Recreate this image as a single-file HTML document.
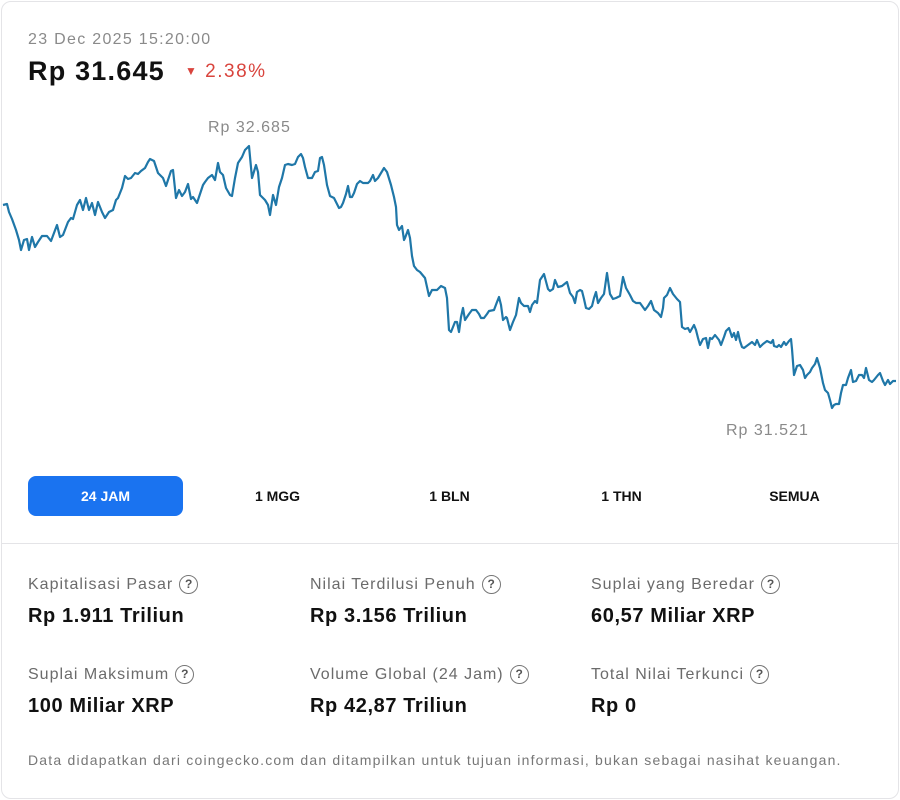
<!DOCTYPE html>
<html><head><meta charset="utf-8"><style>
*{box-sizing:border-box;margin:0;padding:0}
body{width:900px;height:800px;background:#fff;font-family:"Liberation Sans",sans-serif;color:#111;position:relative;overflow:hidden}
.card{position:absolute;left:1px;top:1px;width:898px;height:798px;border:1px solid #e4e4e7;border-radius:10px}
.abs{position:absolute;white-space:nowrap}
.btn{position:absolute;top:476px;height:40px;width:155px;font-size:14px;font-weight:bold;display:flex;align-items:center;justify-content:center}
.lab{font-size:16px;color:#6b6b6b;letter-spacing:1px}
.val{font-size:20px;font-weight:bold;color:#111;letter-spacing:0.6px}
.q{display:inline-block;width:19px;height:19px;border:1.5px solid #777;border-radius:50%;font-size:12px;text-align:center;line-height:16px;color:#555;margin-left:6px;vertical-align:1px;font-weight:bold;letter-spacing:0}
</style></head><body>
<div class="card"></div>
<div class="abs" style="left:28px;top:31px;font-size:16px;color:#8a8a8a;letter-spacing:1.3px">23 Dec 2025 15:20:00</div>
<div class="abs" style="left:28px;top:56px;font-size:27px;font-weight:bold;letter-spacing:1.2px">Rp 31.645</div>
<div class="abs" style="left:185px;top:61px;font-size:19px;color:#d9443d;letter-spacing:1.5px"><span style="font-size:12px;vertical-align:2px">▼</span> 2.38%</div>
<div class="abs" style="left:208px;top:119px;font-size:16px;color:#8a8a8a;letter-spacing:1px">Rp 32.685</div>
<div class="abs" style="left:726px;top:422px;font-size:16px;color:#8a8a8a;letter-spacing:1px">Rp 31.521</div>
<svg class="abs" style="left:0;top:0" width="900" height="470"><polyline fill="none" stroke="#1f77a8" stroke-width="2.2" stroke-linejoin="round" points="3,205 7,204 9,212 12,219 16,230 19,240 21,250 24,240 27,239 29,250 32,237 35,247 38,242 42,236 47,236 51,241 54,233 57,225 60,237 63,235 68,222 71,218 73,219 77,205 80,200 83,210 86,198 89,210 92,203 95,215 98,202 102,212 105,218 109,212 113,210 116,200 118,198 122,188 125,176 128,179 131,178 135,173 138,174 141,171 145,168 148,162 150,159 154,161 158,173 161,176 163,178 166,186 171,171 173,170 176,198 179,190 182,196 185,192 188,184 191,199 193,197 197,203 200,194 203,185 205,182 208,178 212,175 215,180 218,163 220,172 223,175 226,188 230,195 232,196 235,178 238,163 242,157 245,150 249,146 252,178 256,165 258,172 260,195 265,200 268,205 270,215 273,195 276,205 279,187 282,178 285,165 288,164 292,165 295,164 298,157 301,154 303,158 305,167 308,178 312,178 315,172 318,171 320,158 322,157 324,165 327,185 330,196 334,198 336,202 339,208 341,207 343,203 346,194 348,186 350,197 352,197 354,193 357,184 360,181 363,183 368,183 370,181 373,175 375,181 378,178 381,173 384,168 387,172 391,185 394,197 396,207 397,225 399,230 402,226 404,240 405,238 408,230 410,238 412,256 414,266 417,270 420,272 425,278 429,296 432,290 437,290 441,286 445,288 447,298 449,330 451,332 455,322 457,322 459,332 461,317 463,308 465,320 469,314 472,310 476,310 479,314 481,318 484,318 487,314 489,311 494,310 497,302 499,297 501,305 503,320 506,317 507,318 510,330 513,322 516,315 519,298 521,303 524,306 528,306 530,312 532,305 535,301 537,303 540,280 544,274 548,289 550,291 553,289 555,280 558,287 562,286 567,282 570,293 573,297 575,303 577,292 580,290 582,291 584,299 586,308 589,309 592,306 594,298 596,292 598,303 601,298 604,294 607,273 610,294 613,299 616,298 620,296 623,277 626,288 630,295 633,301 636,303 640,303 645,310 648,306 651,301 654,310 658,313 661,317 663,308 664,298 667,295 670,288 673,294 677,299 680,302 682,327 685,329 688,328 690,332 694,325 696,330 698,338 700,345 703,339 706,338 708,348 710,338 712,339 715,335 719,340 721,345 724,337 726,331 729,328 732,337 734,333 736,340 738,332 740,341 742,347 744,348 748,345 752,342 755,345 757,340 760,347 763,344 767,341 771,343 773,340 774,346 777,347 779,345 781,347 784,342 786,345 789,341 791,339 792,349 794,375 797,366 800,365 803,370 805,378 807,375 810,372 812,368 815,364 817,358 820,368 823,383 825,390 828,393 830,400 832,408 834,405 836,404 839,404 841,393 843,385 846,385 848,378 851,370 853,382 856,381 859,375 862,375 864,378 866,368 869,380 872,382 874,380 878,375 880,373 883,381 885,385 888,380 890,384 893,381 896,381"/></svg>
<div class="btn" style="left:28px;background:#1a73f0;color:#fff;border-radius:8px">24 JAM</div>
<div class="btn" style="left:200px">1 MGG</div>
<div class="btn" style="left:372px">1 BLN</div>
<div class="btn" style="left:544px">1 THN</div>
<div class="btn" style="left:717px">SEMUA</div>
<div class="abs" style="left:1px;top:543px;width:898px;height:1px;background:#e4e4e7"></div>
<div class="abs lab" style="left:28px;top:575px">Kapitalisasi Pasar<span class="q">?</span></div>
<div class="abs val" style="left:28px;top:605px">Rp 1.911 Triliun</div>
<div class="abs lab" style="left:310px;top:575px">Nilai Terdilusi Penuh<span class="q">?</span></div>
<div class="abs val" style="left:310px;top:605px">Rp 3.156 Triliun</div>
<div class="abs lab" style="left:591px;top:575px">Suplai yang Beredar<span class="q">?</span></div>
<div class="abs val" style="left:591px;top:605px">60,57 Miliar XRP</div>
<div class="abs lab" style="left:28px;top:665px">Suplai Maksimum<span class="q">?</span></div>
<div class="abs val" style="left:28px;top:695px">100 Miliar XRP</div>
<div class="abs lab" style="left:310px;top:665px">Volume Global (24 Jam)<span class="q">?</span></div>
<div class="abs val" style="left:310px;top:695px">Rp 42,87 Triliun</div>
<div class="abs lab" style="left:591px;top:665px">Total Nilai Terkunci<span class="q">?</span></div>
<div class="abs val" style="left:591px;top:695px">Rp 0</div>
<div class="abs" style="left:28px;top:752px;font-size:14px;color:#777;letter-spacing:1.2px">Data didapatkan dari coingecko.com dan ditampilkan untuk tujuan informasi, bukan sebagai nasihat keuangan.</div>
</body></html>
